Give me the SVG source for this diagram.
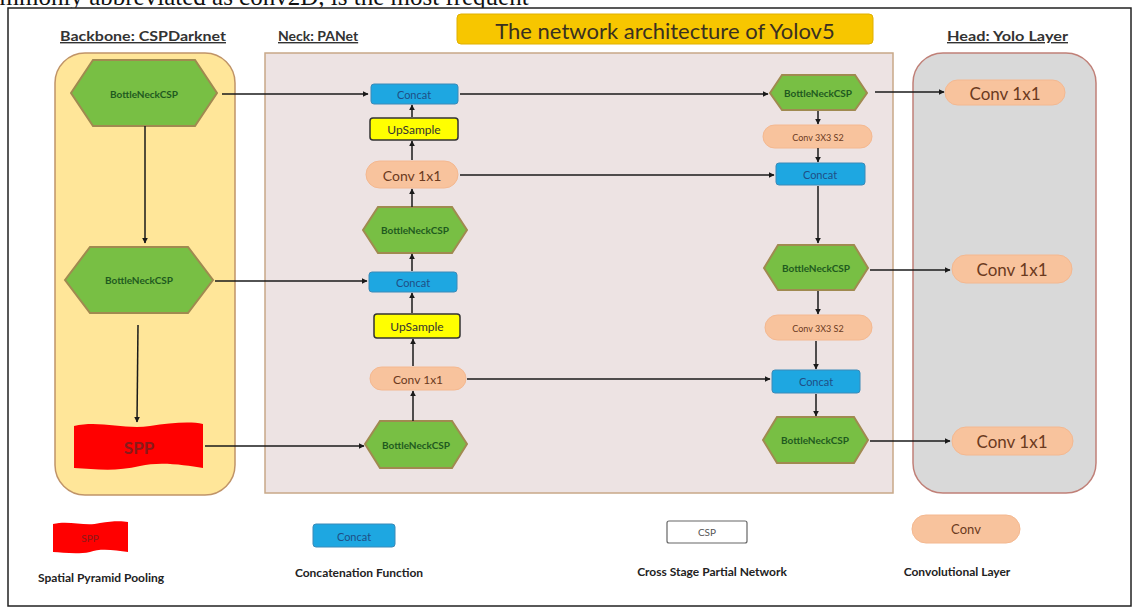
<svg xmlns="http://www.w3.org/2000/svg" width="1134" height="608" viewBox="0 0 1134 608">
<defs>
<marker id="ah" viewBox="0 0 10 10" refX="9" refY="5" markerWidth="6" markerHeight="6" orient="auto" markerUnits="userSpaceOnUse">
<path d="M0,0 L10,5 L0,10 z" fill="#1a1a1a"/>
</marker>
<style>
.sec{font-family:Lato,"Liberation Sans",sans-serif;font-weight:bold;font-size:14px;fill:#333;text-decoration:underline}
.hex{fill:#78bf44;stroke:#a08a50;stroke-width:2}
.hext{font-family:Lato,"Liberation Sans",sans-serif;font-size:10px;font-weight:bold;fill:#1f5a1f;text-anchor:middle;dominant-baseline:central}
.cat{fill:#1ea7e1;stroke:#3a8ab8;stroke-width:1}
.catt{font-family:Lato,"Liberation Sans",sans-serif;font-size:11px;fill:#1f4f86;text-anchor:middle;dominant-baseline:central}
.up{fill:#ffff00;stroke:#333;stroke-width:1.5}
.upt{font-family:Lato,"Liberation Sans",sans-serif;font-size:12px;fill:#333;text-anchor:middle;dominant-baseline:central}
.conv{fill:#f8c39d;stroke:#f4b890;stroke-width:1}
.convt{font-family:Lato,"Liberation Sans",sans-serif;fill:#6b3a1e;text-anchor:middle;dominant-baseline:central}
.c{stroke:#1a1a1a;stroke-width:1.5;fill:none;marker-end:url(#ah)}
.leg{font-family:Lato,"Liberation Sans",sans-serif;font-weight:bold;font-size:12px;fill:#222;text-anchor:middle}
</style>
</defs>
<rect width="1134" height="608" fill="#ffffff"/>
<text x="-24" y="5" font-family="Liberation Serif,serif" font-size="25" fill="#111">commonly abbreviated as conv2D, is the most frequent</text>
<rect x="8" y="8" width="1123" height="598" fill="#ffffff" stroke="#222" stroke-width="1.5"/>

<g id="title">
<rect x="457" y="14" width="416" height="30" rx="4" fill="#f7c600" stroke="#e0b000"/>
<text x="665" y="30" font-family="Lato,'Liberation Sans',sans-serif" font-size="22" fill="#3a3020" text-anchor="middle" dominant-baseline="central">The network architecture of Yolov5</text>
</g>

<g id="labels">
<text class="sec" x="60" y="41" textLength="166" lengthAdjust="spacingAndGlyphs">Backbone: CSPDarknet</text>
<text class="sec" x="278" y="41">Neck: PANet</text>
<text class="sec" x="947" y="41" textLength="121" lengthAdjust="spacingAndGlyphs">Head: Yolo Layer</text>
</g>

<g id="backbone">
<rect x="55" y="53" width="180" height="442" rx="30" fill="#ffe699" stroke="#c09468" stroke-width="1.5"/>
</g>
<g id="neck">
<rect x="265" y="53" width="628" height="440" fill="#ede3e3" stroke="#c8a888" stroke-width="1.5"/>
</g>
<g id="head">
<rect x="913" y="53" width="183" height="440" rx="30" fill="#d9d9d9" stroke="#c08078" stroke-width="1.5"/>
</g>

<g id="b-bn1"><path class="hex" d="M71,93 L93,60 L195,60 L217,93 L195,126 L93,126 Z"/><text class="hext" x="144" y="94">BottleNeckCSP</text></g>
<g id="b-bn2"><path class="hex" d="M65,280 L90,247 L188,247 L213,280 L188,313 L90,313 Z"/><text class="hext" x="139" y="280">BottleNeckCSP</text></g>
<g id="b-spp"><path d="M74,426 C100,420 125,430 150,426 C170,423 190,421 203,424 L203,468 C185,465 160,461 140,466 C115,472 95,469 74,468 Z" fill="#ff0000"/><text x="139" y="447" font-family="Lato,'Liberation Sans',sans-serif" font-size="17" font-weight="bold" fill="#8a1a1a" text-anchor="middle" dominant-baseline="central">SPP</text></g>

<g id="n-cat1"><rect class="cat" x="371" y="84" width="87" height="20" rx="3"/><text class="catt" x="414" y="94">Concat</text></g>
<g id="n-up1"><rect class="up" x="370" y="118" width="88" height="22" rx="3"/><text class="upt" x="414" y="129">UpSample</text></g>
<g id="n-conv1"><rect class="conv" x="366" y="161" width="92" height="27" rx="13.5"/><text class="convt" x="412" y="175" font-size="14">Conv 1x1</text></g>
<g id="n-bn1"><path class="hex" d="M363,230 L378,207 L452,207 L467,230 L452,253 L378,253 Z"/><text class="hext" x="415" y="230" font-size="9">BottleNeckCSP</text></g>
<g id="n-cat2"><rect class="cat" x="369" y="272" width="88" height="20" rx="3"/><text class="catt" x="413" y="282">Concat</text></g>
<g id="n-up2"><rect class="up" x="374" y="314" width="86" height="24" rx="3"/><text class="upt" x="417" y="326">UpSample</text></g>
<g id="n-conv2"><rect class="conv" x="370" y="367" width="96" height="23" rx="11.5"/><text class="convt" x="418" y="379" font-size="12">Conv 1x1</text></g>
<g id="n-bn2"><path class="hex" d="M365,444 L380,421 L452,421 L467,444 L452,468 L380,468 Z"/><text class="hext" x="416" y="445" font-size="9.5">BottleNeckCSP</text></g>

<g id="n-bn3"><path class="hex" d="M770,93 L782,75 L855,75 L867,93 L855,110 L782,110 Z"/><text class="hext" x="818" y="93" font-size="8.5">BottleNeckCSP</text></g>
<g id="n-conv3"><rect class="conv" x="763" y="125" width="109" height="23" rx="11.5"/><text class="convt" x="818" y="137" font-size="9">Conv 3X3 S2</text></g>
<g id="n-cat3"><rect class="cat" x="776" y="163" width="89" height="22" rx="3"/><text class="catt" x="820" y="174">Concat</text></g>
<g id="n-bn4"><path class="hex" d="M764,268 L778,245 L854,245 L868,268 L854,290 L778,290 Z"/><text class="hext" x="816" y="268" font-size="9">BottleNeckCSP</text></g>
<g id="n-conv4"><rect class="conv" x="765" y="315" width="107" height="25" rx="12.5"/><text class="convt" x="818" y="328" font-size="9">Conv 3X3 S2</text></g>
<g id="n-cat4"><rect class="cat" x="772" y="370" width="88" height="23" rx="3"/><text class="catt" x="816" y="381">Concat</text></g>
<g id="n-bn5"><path class="hex" d="M763,440 L777,417 L854,417 L868,440 L854,463 L777,463 Z"/><text class="hext" x="815" y="440" font-size="9.5">BottleNeckCSP</text></g>

<g id="h-conv1"><rect class="conv" x="945" y="80" width="120" height="25" rx="12.5"/><text class="convt" x="1005" y="93" font-size="17" fill="#3a2a20">Conv 1x1</text></g>
<g id="h-conv2"><rect class="conv" x="952" y="255" width="120" height="28" rx="14"/><text class="convt" x="1012" y="269" font-size="17">Conv 1x1</text></g>
<g id="h-conv3"><rect class="conv" x="952" y="427" width="121" height="28" rx="14"/><text class="convt" x="1012" y="441" font-size="17">Conv 1x1</text></g>

<g id="connectors">
<line class="c" x1="145" y1="126" x2="145" y2="243"/>
<line class="c" x1="138" y1="325" x2="137" y2="422"/>
<line class="c" x1="222" y1="94" x2="368" y2="94"/>
<line class="c" x1="215" y1="281" x2="367" y2="281"/>
<line class="c" x1="205" y1="446" x2="364" y2="446"/>
<line class="c" x1="413" y1="421" x2="413" y2="391"/>
<line class="c" x1="413" y1="366" x2="413" y2="339"/>
<line class="c" x1="412" y1="313" x2="412" y2="293"/>
<line class="c" x1="412" y1="271" x2="412" y2="254"/>
<line class="c" x1="412" y1="207" x2="412" y2="189"/>
<line class="c" x1="412" y1="160" x2="412" y2="141"/>
<line class="c" x1="412" y1="117" x2="412" y2="105"/>
<line class="c" x1="460" y1="94" x2="768" y2="94"/>
<line class="c" x1="460" y1="175" x2="774" y2="175"/>
<line class="c" x1="467" y1="379" x2="770" y2="379"/>
<line class="c" x1="818" y1="111" x2="818" y2="124"/>
<line class="c" x1="818" y1="148" x2="818" y2="162"/>
<line class="c" x1="818" y1="186" x2="818" y2="243"/>
<line class="c" x1="818" y1="291" x2="818" y2="314"/>
<line class="c" x1="816" y1="341" x2="816" y2="369"/>
<line class="c" x1="816" y1="394" x2="816" y2="416"/>
<line class="c" x1="875" y1="92" x2="944" y2="92"/>
<line class="c" x1="870" y1="270" x2="950" y2="270"/>
<line class="c" x1="870" y1="441" x2="950" y2="441"/>
</g>

<g id="legend-spp"><path d="M53,524 C70,520 85,527 100,523 C112,521 122,521 128,522 L128,552 C115,550 100,548 90,552 C75,555 62,552 53,552 Z" fill="#ff0000"/><text x="90" y="538" font-family="Lato,'Liberation Sans',sans-serif" font-size="10" fill="#8a1a1a" text-anchor="middle" dominant-baseline="central">SPP</text><text class="leg" x="101" y="582">Spatial Pyramid Pooling</text></g>
<g id="legend-concat"><rect class="cat" x="313" y="524" width="82" height="23" rx="3"/><text class="catt" x="354" y="536">Concat</text><text class="leg" x="359" y="577">Concatenation Function</text></g>
<g id="legend-csp"><rect x="667" y="521" width="80" height="22" rx="2" fill="#ffffff" stroke="#666" stroke-width="1.2"/><text x="707" y="532" font-family="Lato,'Liberation Sans',sans-serif" font-size="10" fill="#555" text-anchor="middle" dominant-baseline="central">CSP</text><text class="leg" x="712" y="576">Cross Stage Partial Network</text></g>
<g id="legend-conv"><rect class="conv" x="912" y="515" width="108" height="28" rx="14"/><text class="convt" x="966" y="529" font-size="13">Conv</text><text class="leg" x="957" y="576">Convolutional Layer</text></g>
</svg>
